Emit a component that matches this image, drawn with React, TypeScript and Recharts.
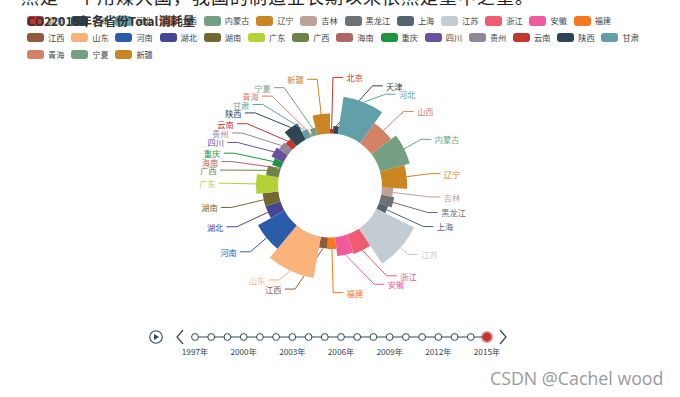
import React from 'react';
import { PieChart, Pie, Sector, Legend, LineChart, Line, XAxis, YAxis } from 'recharts';

// ---------------- data ----------------
const provinces = ['北京', '天津', '河北', '山西', '内蒙古', '辽宁', '吉林', '黑龙江', '上海', '江苏', '浙江', '安徽', '福建', '江西', '山东', '河南', '湖北', '湖南', '广东', '广西', '海南', '重庆', '四川', '贵州', '云南', '陕西', '甘肃', '青海', '宁夏', '新疆'];
const co2Total = [90, 150, 740, 480, 600, 490, 220, 260, 190, 820, 400, 370, 225, 215, 820, 590, 305, 310, 430, 250, 42, 185, 260, 210, 175, 350, 170, 55, 150, 390];
const palette = ['#c23531', '#2f4554', '#61a0a8', '#d48265', '#749f83', '#ca8622', '#bda29a', '#6e7074', '#546570', '#c4ccd3', '#f05b72', '#ef5b9c', '#f47920', '#905a3d', '#fab27b', '#2a5caa', '#444693', '#726930', '#b2d235', '#6d8346', '#ac6767', '#1d953f', '#6950a1', '#918597'];
const years = [1997, 1998, 1999, 2000, 2001, 2002, 2003, 2004, 2005, 2006, 2007, 2008, 2009, 2010, 2011, 2012, 2013, 2014, 2015];
const yearTicks = [1997, 2000, 2003, 2006, 2009, 2012, 2015];
const currentYear = 2015;
const titleText = 'CO22015年各省份Total消耗量';
const pageText = '然是一个用煤大国，我国的制造业长期以来依然是重中之重。';
const watermark = 'CSDN @Cachel wood';

const pieData = provinces.map((name, i) => ({ name, value: co2Total[i] }));
const timelineData = years.map((year) => ({ year, v: 0.5 }));

// ---------------- geometry / styles ----------------
const CX = 330;
const CY = 185.5;
const R_IN = 52;
const R_OUT = 94;
const LEN = 10.2;
const LEN2 = 10.2;
const LABEL_DIST = 3.4;
const LABEL_H = 8.4;
const X_STEP = 6.8;
const FONT = '"Noto Sans CJK SC", "Noto Sans", sans-serif';
const colorOf = (i: number) => palette[i % palette.length];
const maxVal = Math.max(...co2Total);
const roseRadius = (v: number) => R_IN + (v / maxVal) * (R_OUT - R_IN);

type Item = { i: number; x1: number; y1: number; x2: number; x3: number; x: number; y: number; dir: number; height: number; lx2: number; lx3: number };

function changeX(list: Item[], isDown: boolean, dir: number) {
  let last = isDown ? Number.MAX_VALUE : 0;
  const rho = R_OUT + LEN + LEN2;
  for (const it of list) {
    const dy = Math.abs(it.y - CY);
    let dx = dy < R_OUT + LEN ? Math.sqrt(rho * rho - dy * dy) : Math.abs(it.x - CX);
    if (isDown && dx >= last) dx = last - X_STEP;
    if (!isDown && dx <= last) dx = last + X_STEP;
    it.x = CX + dx * dir;
    last = dx;
  }
}

function adjustSide(list: Item[], dir: number) {
  if (!list.length) return;
  list.sort((a, b) => a.y - b.y);
  const viewTop = 0;
  const viewHeight = 397;
  const shiftUp = (end: number, delta: number) => {
    for (let j = end; j >= 0; j--) {
      if (list[j].y - delta < viewTop) break;
      list[j].y -= delta;
      if (j > 0 && list[j].y > list[j - 1].y + list[j - 1].height) break;
    }
  };
  const shiftDown = (start: number, end: number, delta: number) => {
    for (let j = start; j < end; j++) {
      if (list[j].y + delta > viewTop + viewHeight) break;
      list[j].y += delta;
      if (j > start && j + 1 < end && list[j + 1].y > list[j].y + list[j].height) {
        shiftUp(j, delta / 2);
        return;
      }
    }
    shiftUp(end - 1, delta / 2);
  };
  let lastY = 0;
  for (let i = 0; i < list.length; i++) {
    const d = list[i].y - lastY;
    if (d < 0) shiftDown(i, list.length, -d);
    lastY = list[i].y + list[i].height;
  }
  if (viewHeight - lastY < 0) shiftUp(list.length - 1, lastY - viewHeight);
  changeX(list.filter((it) => it.y < CY), false, dir);
  changeX(list.filter((it) => it.y >= CY), true, dir);
}

function layoutLabels(): Item[] {
  const total = co2Total.reduce((a, b) => a + b, 0);
  let acc = 0;
  const items: Item[] = co2Total.map((v, i) => {
    const a0 = (acc / total) * 360;
    acc += v;
    const a1 = (acc / total) * 360;
    const mid = (((a0 + a1) / 2) * Math.PI) / 180;
    const nx = Math.sin(mid);
    const ny = -Math.cos(mid);
    const r = roseRadius(v);
    const x2 = CX + (R_OUT + LEN) * nx;
    const y2 = CY + (R_OUT + LEN) * ny;
    const dir = nx < 0 ? -1 : 1;
    const x3 = x2 + dir * LEN2;
    return { i, x1: CX + r * nx, y1: CY + r * ny, x2, x3, x: x3 + dir * LABEL_DIST, y: y2, dir, height: LABEL_H, lx2: 0, lx3: 0 };
  });
  adjustSide(items.filter((it) => it.x >= CX), 1);
  adjustSide(items.filter((it) => it.x < CX), -1);
  items.forEach((it) => {
    const dist = it.x2 - it.x3;
    it.lx3 = it.x - it.dir * LABEL_DIST;
    it.lx2 = it.lx3 + dist;
  });
  return items;
}

const LAYOUT = layoutLabels();

const RAD = Math.PI / 180;

const renderRose = (props: any) => {
  const { cx, cy, innerRadius, startAngle, endAngle, midAngle, index, value } = props;
  const color = colorOf(index);
  const r = roseRadius(value);
  const it = LAYOUT[index];
  const sx = cx + r * Math.cos(-midAngle * RAD);
  const sy = cy + r * Math.sin(-midAngle * RAD);
  return (
    <g key={`rose-${index}`}>
      <Sector cx={cx} cy={cy} innerRadius={innerRadius} outerRadius={r} startAngle={startAngle} endAngle={endAngle} fill={color} stroke="none" />
      <polyline points={`${sx},${sy} ${it.lx2},${it.y} ${it.lx3},${it.y}`} stroke={color} strokeWidth={1} fill="none" />
      <text x={it.x} y={it.y} textAnchor={it.dir > 0 ? 'start' : 'end'} dominantBaseline="central" fill={color} fontSize={8.2} fontFamily={FONT}>
        {provinces[index]}
      </text>
    </g>
  );
};

const LegendContent = () => (
  <div style={{ display: 'flex', flexWrap: 'wrap', width: 625, fontFamily: FONT }}>
    {provinces.map((n, i) => (
      <div key={n} style={{ display: 'flex', alignItems: 'center', height: 16.7, marginRight: 6.8 }}>
        <div style={{ width: 17, height: 9.5, borderRadius: 3, background: colorOf(i), marginRight: 4 }} />
        <span style={{ fontSize: 8.2, lineHeight: '9px', color: '#444', whiteSpace: 'nowrap' }}>{n}</span>
      </div>
    ))}
  </div>
);

const TimelineDot = (props: any) => {
  const { cx, cy, payload } = props;
  if (cx == null || cy == null) return null;
  if (payload.year === currentYear) {
    return (
      <g key={`d${payload.year}`}>
        <circle cx={cx} cy={cy} r={6.1} fill="rgba(194,53,49,0.5)" />
        <circle cx={cx} cy={cy} r={4.4} fill="#c23531" />
      </g>
    );
  }
  return <circle key={`d${payload.year}`} cx={cx} cy={cy} r={3.4} fill="#fff" stroke="#304654" strokeWidth={1} />;
};

export default function App() {
  return (
    <div style={{ position: 'absolute', left: 0, top: 0, width: 680, height: 397, overflow: 'hidden', background: '#fff' }}>
      <div style={{ position: 'absolute', left: 21, top: -13, fontSize: 18, lineHeight: '18px', letterSpacing: 1, color: '#222', fontFamily: FONT, whiteSpace: 'nowrap' }}>
        {pageText}
      </div>
      <div style={{ position: 'absolute', left: 0, top: 0 }}>
        <PieChart width={680} height={397} margin={{ top: 0, right: 0, bottom: 0, left: 0 }}>
          <Legend
            layout="horizontal"
            verticalAlign="middle"
            align="center"
            width={625}
            content={<LegendContent />}
            wrapperStyle={{ left: 27, top: 12.6, width: 625, height: 52 }}
          />
          <Pie
            data={pieData}
            dataKey="value"
            nameKey="name"
            cx={CX}
            cy={CY}
            innerRadius={R_IN}
            outerRadius={R_OUT}
            startAngle={90}
            endAngle={-270}
            fill="none"
            stroke="none"
            label={renderRose}
            labelLine={false}
            isAnimationActive={false}
          />
        </PieChart>
      </div>
      <div style={{ position: 'absolute', left: 27, top: 13.5, fontSize: 12.2, lineHeight: '15px', fontWeight: 'bold', color: '#333', fontFamily: FONT, whiteSpace: 'nowrap' }}>
        {titleText}
      </div>
      <div style={{ position: 'absolute', left: 0, top: 315 }}>
        <LineChart width={680} height={47} data={timelineData} margin={{ top: 12, right: 193, bottom: 0, left: 195 }}>
          <XAxis
            dataKey="year"
            type="number"
            domain={[1997, 2015]}
            ticks={yearTicks}
            tickFormatter={(v: number) => `${v}年`}
            tick={{ fontSize: 8.2, fill: '#304654', fontFamily: FONT }}
            tickLine={false}
            axisLine={false}
            tickSize={0}
            tickMargin={2}
            height={15}
            interval={0}
          />
          <YAxis hide domain={[0, 1]} />
          <Line dataKey="v" stroke="#304654" strokeWidth={1} dot={<TimelineDot />} isAnimationActive={false} />
        </LineChart>
      </div>
      <svg style={{ position: 'absolute', left: 0, top: 0, pointerEvents: 'none' }} width={680} height={397}>
        <circle cx={156} cy={337} r={6.3} fill="none" stroke="#304654" strokeWidth={1.1} />
        <path d="M154,334 L154,340 L159,337 Z" fill="#304654" />
        <path d="M183,330 L177,337 L183,344" fill="none" stroke="#304654" strokeWidth={1.2} />
        <path d="M500,330 L506,337 L500,344" fill="none" stroke="#304654" strokeWidth={1.2} />
      </svg>
      <div style={{ position: 'absolute', left: 490, top: 367, fontSize: 17.8, lineHeight: '22px', color: '#9a9a9a', fontFamily: '"Open Sans", sans-serif', whiteSpace: 'nowrap' }}>
        {watermark}
      </div>
    </div>
  );
}
